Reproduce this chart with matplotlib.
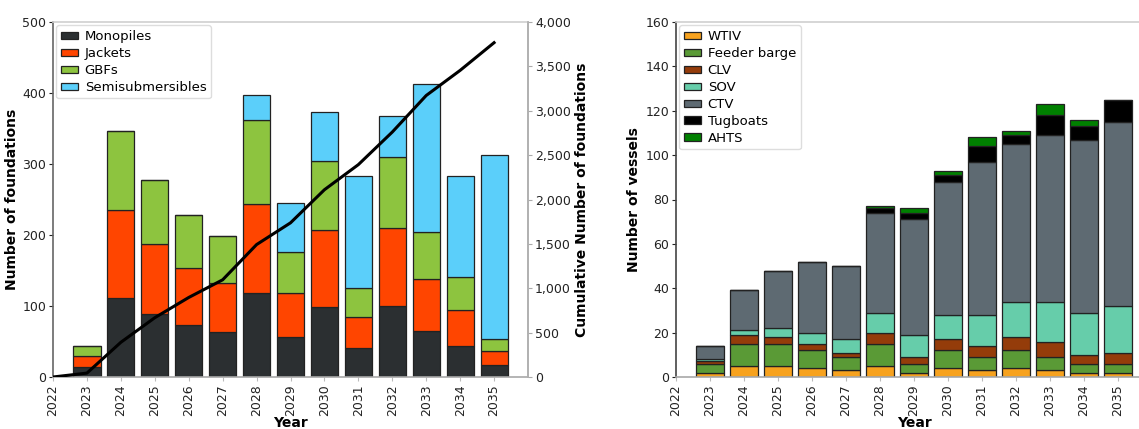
import numpy as np
import matplotlib
matplotlib.use("Agg")
import matplotlib.pyplot as plt
from matplotlib.ticker import FuncFormatter

# ---------------- data ----------------
years = [2023, 2024, 2025, 2026, 2027, 2028, 2029, 2030, 2031, 2032, 2033, 2034, 2035]
tick_years = list(range(2022, 2036))

monopiles = [14, 111, 89, 73, 64, 118, 57, 98, 41, 100, 65, 44, 17]
jackets = [16, 124, 98, 81, 69, 125, 62, 109, 43, 110, 73, 51, 19]
gbfs = [14, 112, 90, 74, 66, 119, 57, 97, 41, 100, 66, 46, 17]
semisubs = [0, 0, 0, 0, 0, 35, 69, 69, 158, 57, 208, 142, 259]

wtiv = [2, 5, 5, 4, 3, 5, 2, 4, 3, 4, 3, 2, 2]
feeder = [4, 10, 10, 8, 6, 10, 4, 8, 6, 8, 6, 4, 4]
clv = [1, 4, 3, 3, 2, 5, 3, 5, 5, 6, 7, 4, 5]
sov = [1, 2, 4, 5, 6, 9, 10, 11, 14, 16, 18, 19, 21]
ctv = [6, 18, 26, 32, 33, 45, 52, 60, 69, 71, 75, 78, 83]
tugboats = [0, 0, 0, 0, 0, 2, 3, 3, 7, 4, 9, 6, 10]
ahts = [0, 0, 0, 0, 0, 1, 2, 2, 4, 2, 5, 3, 0]

found_series = [("Monopiles", monopiles, "#2b2f31"),
                ("Jackets", jackets, "#ff4500"),
                ("GBFs", gbfs, "#8dc43f"),
                ("Semisubmersibles", semisubs, "#5bcffa")]
vessel_series = [("WTIV", wtiv, "#f7a21e"),
                 ("Feeder barge", feeder, "#5a9a36"),
                 ("CLV", clv, "#943c0a"),
                 ("SOV", sov, "#66cdaa"),
                 ("CTV", ctv, "#5e6a72"),
                 ("Tugboats", tugboats, "#000000"),
                 ("AHTS", ahts, "#008000")]

totals = np.sum([s for _, s, _ in found_series], axis=0)
cum_years = [2022] + years
cum_vals = np.concatenate([[0], np.cumsum(totals)])

plt.rcParams['font.family'] = ['DejaVu Sans']
TICK_FS = 9
LAB_FS = 10

fig = plt.figure(figsize=(11.39, 4.29), dpi=100)
W, H = 1139, 429
axL = fig.add_axes([53 / W, (H - 377) / H, (528 - 53) / W, (377 - 22) / H])
axR = fig.add_axes([676 / W, (H - 377) / H, (1152 - 676) / W, (377 - 22) / H])


def style(ax, left_col):
    ax.spines['top'].set_color('#d0d0d0')
    ax.spines['right'].set_color('#b0b0b0')
    ax.spines['bottom'].set_color('#a8a8a8')
    ax.spines['left'].set_color(left_col)
    for sp in ax.spines.values():
        sp.set_linewidth(1.2)
    ax.tick_params(axis='both', labelsize=TICK_FS, colors='#222222', length=3, width=0.8, pad=2)
    ax.tick_params(axis='x', colors='#222222', labelrotation=90, color='#bbbbbb')
    ax.set_xticks(tick_years)
    ax.set_xlim(2022, 2036)


def stack(ax, series, lw):
    bottom = np.zeros(len(years))
    for name, vals, col in series:
        v = np.array(vals, dtype=float)
        ax.bar(years, v, bottom=bottom, width=0.8, color=col, edgecolor='#222222',
               linewidth=lw, label=name, zorder=2)
        bottom += v


# ---------------- left ----------------
style(axL, '#666666')
stack(axL, found_series, 0.9)
axL.set_ylim(0, 500)
axL.set_yticks([0, 100, 200, 300, 400, 500])
axL.set_ylabel("Number of foundations", fontsize=LAB_FS, fontweight='bold', labelpad=2)
axL.set_xlabel("Year", fontsize=LAB_FS, fontweight='bold', labelpad=0)
axL.legend(loc='upper left', fontsize=9.5, handlelength=1.3, handleheight=0.45,
           labelspacing=0.3, borderaxespad=0.25, handletextpad=0.5,
           borderpad=0.35, framealpha=1, edgecolor='#dddddd')

axT = axL.twinx()
axT.plot(cum_years, cum_vals, color='black', linewidth=2.2, zorder=5)
axT.set_ylim(0, 4000)
axT.set_yticks(range(0, 4001, 500))
axT.yaxis.set_major_formatter(FuncFormatter(lambda v, p: f"{int(v):,}"))
axT.tick_params(axis='y', labelsize=TICK_FS, colors='#222222', length=3, width=0.8, pad=2)
axT.tick_params(axis='y', color='#aaaaaa')
for k, sp in axT.spines.items():
    sp.set_visible(k == 'right')
axT.spines['right'].set_color('#b0b0b0')
axT.spines['right'].set_linewidth(1.2)
axT.set_ylabel("Cumulative Number of foundations", fontsize=LAB_FS, fontweight='bold', labelpad=3)

# ---------------- right ----------------
style(axR, '#444444')
stack(axR, vessel_series, 0.9)
axR.set_ylim(0, 160)
axR.set_yticks(range(0, 161, 20))
axR.set_ylabel("Number of vessels", fontsize=LAB_FS, fontweight='bold', labelpad=3)
axR.set_xlabel("Year", fontsize=LAB_FS, fontweight='bold', labelpad=0)
axR.legend(loc='upper left', fontsize=9.5, handlelength=1.3, handleheight=0.45,
           labelspacing=0.3, borderaxespad=0.25, handletextpad=0.5,
           borderpad=0.35, framealpha=1, edgecolor='#dddddd')

fig.savefig("out.png", dpi=100)
